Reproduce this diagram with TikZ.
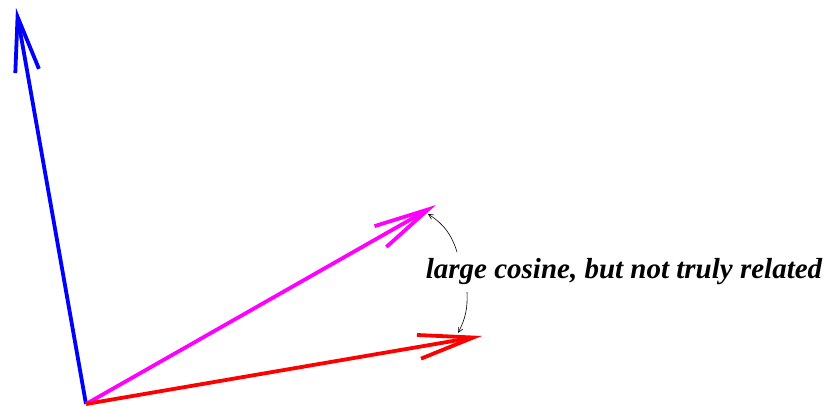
\documentclass[tikz,border=0pt]{standalone}
\usepackage{fontspec}
\setmainfont{Liberation Serif}
\usetikzlibrary{arrows.meta}
\definecolor{VecMagenta}{HTML}{FF00FF}

\tikzset{
  vec/.style={line width=3.8pt,-{Straight Barb[length=55pt,width=24pt,line width=3.8pt]}},
  pointer/.style={semithick,-{Straight Barb[length=5pt,width=5pt]}},
}

\begin{document}
\begin{tikzpicture}[x=1pt,y=-1pt]
  \useasboundingbox (0,0) rectangle (835,407);
  \coordinate (o) at (86,404);
  \coordinate (b) at (16,8);
  \coordinate (m) at (436,205);
  \coordinate (r) at (482,336);
  % vectors
  \draw[vec,blue] (o) -- (b);
  \draw[vec,VecMagenta] (o) -- (m);
  \draw[vec,red] (o) -- (r);
  % label
  \node[font=\fontsize{29}{33}\selectfont\bfseries\itshape,inner sep=1pt] (lbl) at (624,272) {large cosine, but not truly related};
  \coordinate (ls) at (457,252);
  \coordinate (lt) at (467,292);
  \coordinate (mt) at (428,214);
  \coordinate (rt) at (458,333);
  \draw[pointer] (ls) to[bend right=20] (mt);
  \draw[pointer] (lt) to[bend left=15] (rt);
\end{tikzpicture}
\end{document}
